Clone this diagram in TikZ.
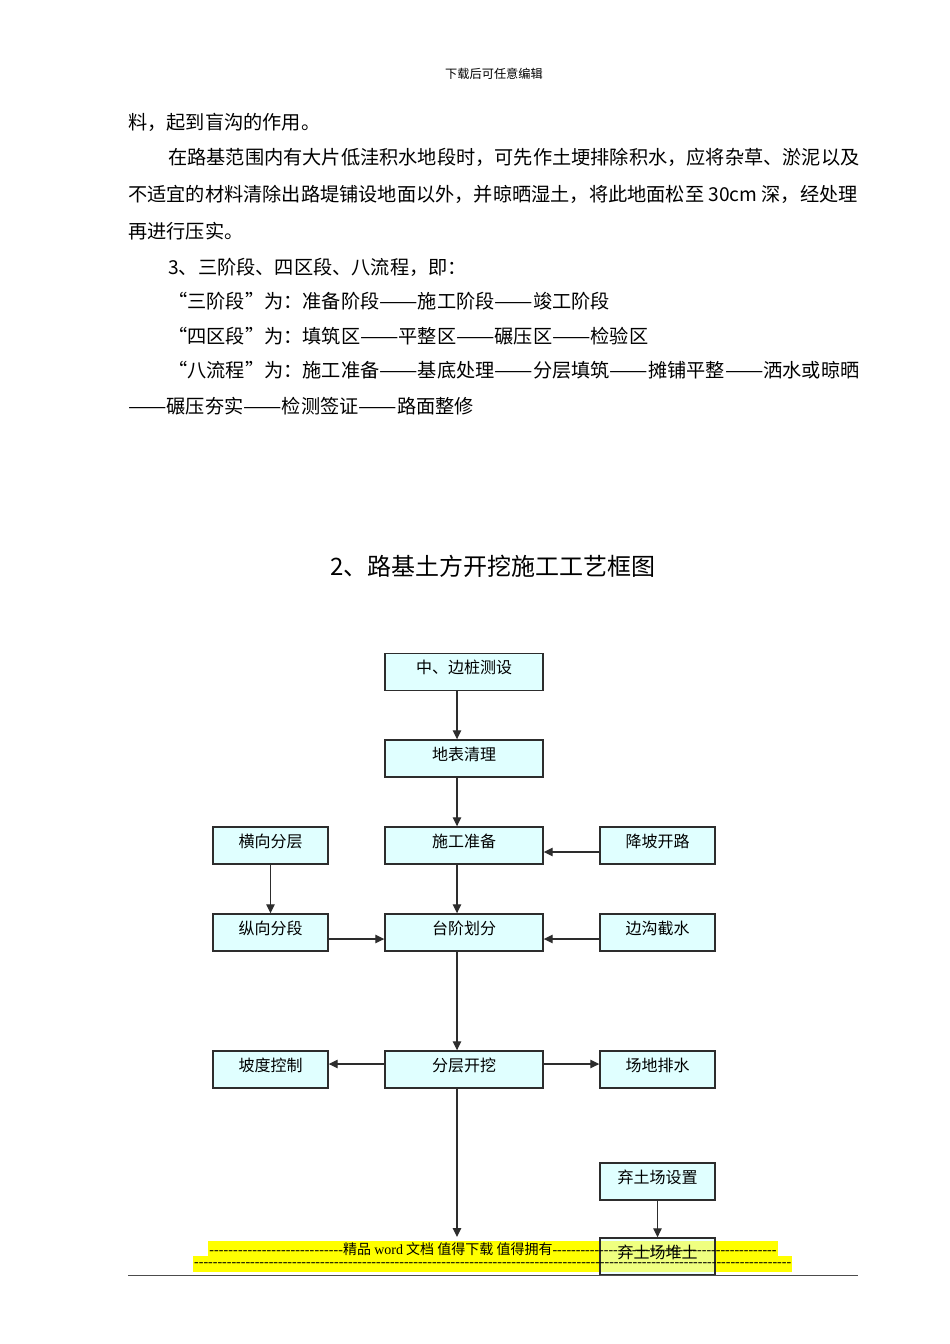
\documentclass[tikz,border=0pt]{standalone}
\usepackage{fontspec}
\usepackage{graphicx}
\setmainfont{Noto Sans CJK SC}
\newfontfamily\latinserif{Liberation Serif}
\usetikzlibrary{arrows.meta}
\definecolor{boxfill}{RGB}{224,255,255}
\definecolor{boxline}{RGB}{45,45,45}
\definecolor{hl}{RGB}{255,255,0}
\newcommand\dashfill[1]{\hbox to #1{\latinserif\xleaders\hbox{-}\hfill}}
\newcommand\dd{\resizebox{2em}{\height}{——}}
\begin{document}
\begin{tikzpicture}[x=1pt,y=-1pt,
  bx/.style={draw=boxline,line width=1.4pt,fill=boxfill,minimum height=37pt,inner sep=0pt,
    font=\fontsize{16}{16}\selectfont,text height=12pt,text depth=9pt},
  cbox/.style={bx,minimum width=158pt},
  sbox/.style={bx,minimum width=115pt},
  arr/.style={draw=boxline,line width=1.3pt,-{Triangle[length=9pt,width=8.5pt]}},
  body/.style={anchor=west,inner sep=0pt,font=\fontsize{19.2}{19.2}\selectfont},
  foot/.style={anchor=west,inner sep=0pt,font=\fontsize{14}{14}\selectfont}
]
\useasboundingbox[fill=white] (0,0) rectangle (950,1344);

% header
\node[inner sep=0pt,font=\fontsize{12.2}{12.2}\selectfont] (hdr) at (494,74) {下载后可任意编辑};

% body text
\node[body] (t1) at (128,122) {料，起到盲沟的作用。};
\node[body] (t2) at (168,157) {在路基范围内有大片低洼积水地段时，可先作土埂排除积水，应将杂草、淤泥以及};
\node[body] (t3) at (128,194) {不适宜的材料清除出路堤铺设地面以外，并晾晒湿土，将此地面松至 30cm 深，经处理};
\node[body] (t4) at (128,231) {再进行压实。};
\node[body] (t5) at (168,267) {3、三阶段、四区段、八流程，即：};
\node[body] (t6) at (168,301) {“三阶段”为：准备阶段\dd 施工阶段\dd 竣工阶段};
\node[body] (t7) at (168,336) {“四区段”为：填筑区\dd 平整区\dd 碾压区\dd 检验区};
\node[body] (t8) at (168,370) {“八流程”为：施工准备\dd 基底处理\dd 分层填筑\dd 摊铺平整\dd 洒水或晾晒};
\node[body] (t9) at (128,406) {\dd 碾压夯实\dd 检测签证\dd 路面整修};

% title
\node[inner sep=0pt,font=\fontsize{24}{24}\selectfont] (title) at (493,566) {2、路基土方开挖施工工艺框图};

% boxes
\node[cbox] (b1) at (464,672) {中、边桩测设};
\node[cbox] (b2) at (464,758.5) {地表清理};
\node[cbox] (b3) at (464,845.5) {施工准备};
\node[cbox] (b4) at (464,932.5) {台阶划分};
\node[cbox] (b5) at (464,1069.5) {分层开挖};
\node[sbox] (l1) at (270.5,845.5) {横向分层};
\node[sbox] (l2) at (270.5,932.5) {纵向分段};
\node[sbox] (l3) at (270.5,1069.5) {坡度控制};
\node[sbox] (r1) at (657.5,845.5) {降坡开路};
\node[sbox] (r2) at (657.5,932.5) {边沟截水};
\node[sbox] (r3) at (657.5,1069.5) {场地排水};
\node[sbox] (r4) at (657.5,1181.5) {弃土场设置};

% footer highlight bands
\fill[hl] (208,1241) rectangle (778,1256);
\fill[hl] (193,1256) rectangle (792,1272);

\node[sbox,fill opacity=0.5,text opacity=1,draw opacity=1] (r5) at (657.5,1256.5) {弃土场堆土};

\node[foot] (f1) at (209,1249) {\dashfill{134pt}精品 {\latinserif word} 文档 值得下载 值得拥有\dashfill{224pt}};
\node[foot] (f2) at (194,1265) {\dashfill{597pt}};

\draw[line width=1.5pt,draw=black!70] (128,1275.5) -- (858,1275.5);

% connectors
\coordinate (end) at (457,1237);
\draw[arr] ([xshift=-7pt]b1.south) -- ([xshift=-7pt]b2.north);
\draw[arr] ([xshift=-7pt]b2.south) -- ([xshift=-7pt]b3.north);
\draw[arr] ([xshift=-7pt]b3.south) -- ([xshift=-7pt]b4.north);
\draw[arr] ([xshift=-7pt]b4.south) -- ([xshift=-7pt]b5.north);
\draw[arr] ([xshift=-7pt]b5.south) -- (end);
\draw[arr] (l1.south) -- (l2.north);
\draw[arr] (r4.south) -- (r5.north);
\draw[arr] ([yshift=-6.5pt]r1.west) -- ([yshift=-6.5pt]b3.east);
\draw[arr] ([yshift=-6.5pt]l2.east) -- ([yshift=-6.5pt]b4.west);
\draw[arr] ([yshift=-6.5pt]r2.west) -- ([yshift=-6.5pt]b4.east);
\draw[arr] ([yshift=5.5pt]b5.west) -- ([yshift=5.5pt]l3.east);
\draw[arr] ([yshift=5.5pt]b5.east) -- ([yshift=5.5pt]r3.west);
\end{tikzpicture}
\end{document}
